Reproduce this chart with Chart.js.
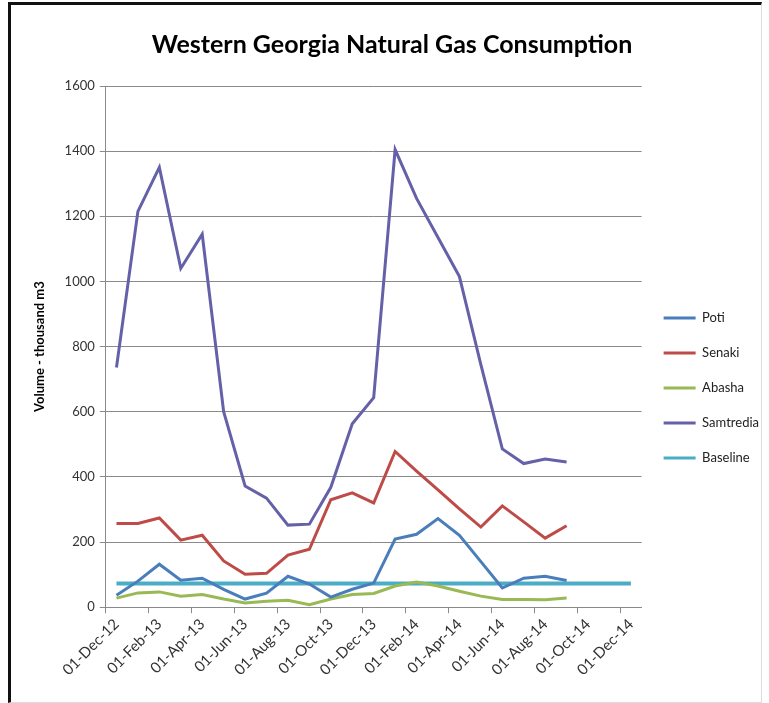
<!DOCTYPE html>
<html>
<head>
<meta charset="utf-8">
<title>Western Georgia Natural Gas Consumption</title>
<script src="https://cdn.jsdelivr.net/npm/chart.js@4"></script>
<style>
  html, body { margin: 0; padding: 0; background: #ffffff; }
  #wrap { position: relative; width: 769px; height: 703px; }
  #chart { position: absolute; left: 0; top: 0; }
  #frame {
    position: absolute; left: 8px; top: 2px; width: 750px; height: 697px;
    border-left: 3px solid #111; border-top: 3px solid #111;
    border-right: 1px solid #dcdcdc; border-bottom: 1px solid #dcdcdc;
    pointer-events: none;
  }
</style>
</head>
<body>
<div id="wrap">
  <canvas id="chart" width="769" height="703"></canvas>
  <div id="frame"></div>
</div>
<script>
// Monthly categories, Dec 2012 – Dec 2014
const months = [
  '01-Dec-12', '01-Jan-13', '01-Feb-13', '01-Mar-13', '01-Apr-13', '01-May-13',
  '01-Jun-13', '01-Jul-13', '01-Aug-13', '01-Sep-13', '01-Oct-13', '01-Nov-13',
  '01-Dec-13', '01-Jan-14', '01-Feb-14', '01-Mar-14', '01-Apr-14', '01-May-14',
  '01-Jun-14', '01-Jul-14', '01-Aug-14', '01-Sep-14', '01-Oct-14', '01-Nov-14',
  '01-Dec-14'
];

// Consumption, thousand m3 (Dec-12 .. Sep-14)
const poti      = [37, 80, 132, 83, 89, 55, 25, 43, 95, 71, 31, 55, 74, 209, 224, 272, 221, 140, 59, 89, 95, 82];
const senaki    = [257, 257, 274, 206, 221, 142, 101, 104, 160, 178, 330, 351, 320, 478, 418, 360, 302, 246, 311, 262, 212, 250];
const abasha    = [28, 44, 47, 34, 39, 25, 13, 18, 21, 8, 25, 39, 42, 65, 77, 65, 49, 34, 24, 24, 23, 28];
const samtredia = [736, 1215, 1350, 1040, 1145, 600, 372, 335, 252, 255, 368, 563, 643, 1405, 1255, 1135, 1015, 745, 486, 441, 455, 446];
const baseline  = [73, 73, 73, 73, 73, 73, 73, 73, 73, 73, 73, 73, 73, 73, 73, 73, 73, 73, 73, 73, 73, 73, 73, 73, 73];

const yTicks = [0, 200, 400, 600, 800, 1000, 1200, 1400, 1600];

const FONT = "'Lato', 'Liberation Sans', sans-serif";
const gridGray = '#8a8a8a';

function series(label, data, color, width) {
  return {
    label: label,
    data: data,
    borderColor: color,
    backgroundColor: color,
    borderWidth: width,
    pointRadius: 0,
    pointHoverRadius: 0,
    tension: 0,
    fill: false
  };
}

new Chart(document.getElementById('chart'), {
  type: 'line',
  data: {
    labels: months,
    datasets: [
      series('Poti', poti, '#4a7ebb', 3),
      series('Senaki', senaki, '#be4b48', 3),
      series('Abasha', abasha, '#98b954', 3),
      series('Samtredia', samtredia, '#6561a8', 3),
      series('Baseline', baseline, '#4bacc6', 4)
    ]
  },
  options: {
    responsive: false,
    animation: false,
    events: [],
    layout: { padding: { left: 15, right: 0, top: 22, bottom: 22 } },
    plugins: {
      title: {
        display: true,
        text: 'Western Georgia Natural Gas Consumption',
        color: '#000',
        font: { family: FONT, size: 25, weight: 'bold' },
        padding: { top: 8, bottom: 26 }
      },
      legend: {
        position: 'right',
        align: 'center',
        title: { display: true, text: '', padding: { top: 31, bottom: 31 }, font: { size: 9 } },
        labels: {
          usePointStyle: true,
          pointStyle: 'line',
          pointStyleWidth: 32,
          padding: 22,
          color: '#222',
          font: { family: FONT, size: 13 },
          generateLabels(chart) {
            return chart.data.datasets.map((ds, i) => ({
              text: ds.label,
              strokeStyle: ds.borderColor,
              fillStyle: ds.borderColor,
              lineWidth: 3,
              pointStyle: 'line',
              hidden: false,
              datasetIndex: i,
              fontColor: '#222'
            }));
          }
        }
      },
      tooltip: { enabled: false }
    },
    scales: {
      x: {
        type: 'category',
        offset: true,
        border: { display: true, color: gridGray, width: 1 },
        grid: {
          display: true,
          offset: true,
          drawOnChartArea: false,
          drawTicks: true,
          tickLength: 6,
          color: (ctx) => (ctx.index % 2 === 0 ? gridGray : 'rgba(0,0,0,0)')
        },
        ticks: {
          autoSkip: false,
          maxRotation: 45,
          minRotation: 45,
          padding: 2,
          color: '#333',
          font: { family: FONT, size: 15 },
          callback: function (value, index) {
            return index % 2 === 0 ? this.getLabelForValue(value) : '';
          }
        }
      },
      y: {
        min: 0,
        max: 1600,
        afterBuildTicks(axis) { axis.ticks = yTicks.map(v => ({ value: v })); },
        border: { display: true, color: gridGray, width: 1 },
        grid: {
          color: gridGray,
          lineWidth: 1,
          drawTicks: true,
          tickLength: 6
        },
        ticks: {
          padding: 5,
          color: '#333',
          font: { family: FONT, size: 13 },
          callback: (value) => String(value)
        },
        title: {
          display: true,
          text: 'Volume - thousand m3',
          color: '#000',
          font: { family: FONT, size: 13, weight: 'bold' },
          padding: { top: 17, bottom: 12 }
        }
      }
    }
  }
});
</script>
</body>
</html>
